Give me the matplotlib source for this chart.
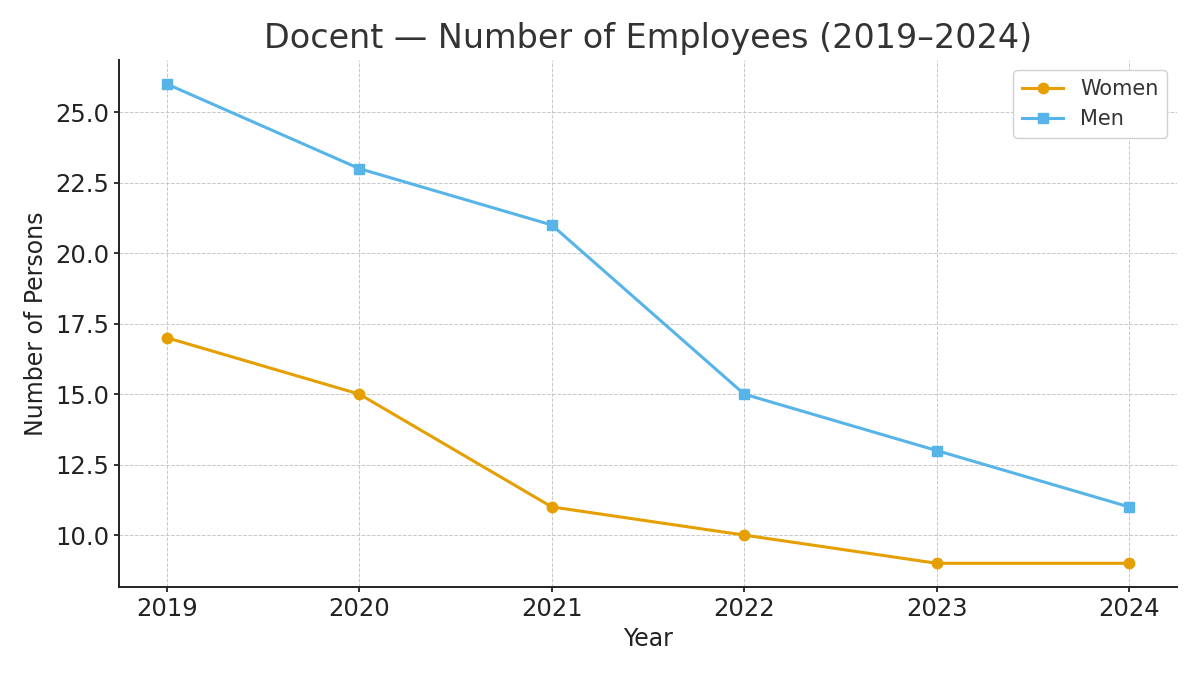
import matplotlib
matplotlib.use("Agg")
import matplotlib.pyplot as plt

plt.rcParams['font.family'] = ['DejaVu Sans']

years = [2019, 2020, 2021, 2022, 2023, 2024]
women = [17, 15, 11, 10, 9, 9]
men = [26, 23, 21, 15, 13, 11]

fig = plt.figure(figsize=(12, 6.75), dpi=100)
ax = fig.add_axes([0.099, 0.130, 0.882, 0.781])

ax.plot(years, women, marker='o', color='#E69F00', linewidth=2.2, markersize=7.5, label='Women')
ax.plot(years, men, marker='s', color='#56B4E9', linewidth=2.2, markersize=7.5, label='Men')

ax.set_title('Docent — Number of Employees (2019–2024)', fontsize=24, color='#333333', pad=8.5)
ax.set_xlabel('Year', fontsize=17, color='#222222')
ax.set_ylabel('Number of Persons', fontsize=17, color='#222222', labelpad=5)
ax.set_xticks(years)
ax.tick_params(labelsize=17.5, colors='#222222', width=1.3)
ax.grid(True, linestyle='--', color='#c8c8c8', linewidth=0.7)

for s in ['top', 'right']:
    ax.spines[s].set_visible(False)
for s in ['left', 'bottom']:
    ax.spines[s].set_linewidth(1.4)
    ax.spines[s].set_color('#222222')

leg = ax.legend(loc='upper right', fontsize=15, framealpha=1)
leg.get_frame().set_edgecolor('#d0d0d0')
for t in leg.get_texts():
    t.set_color('#333333')

fig.savefig('out.png', dpi=100)
